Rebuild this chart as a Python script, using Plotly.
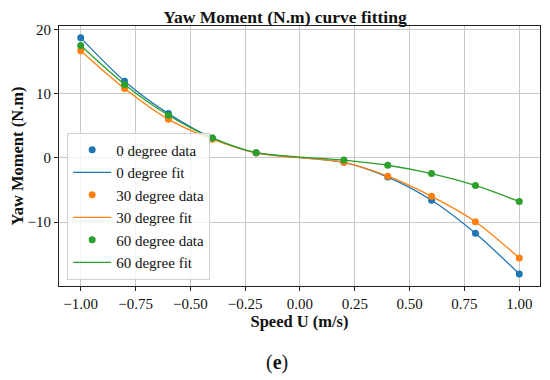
import plotly.graph_objects as go

speed = [-1.0, -0.8, -0.6, -0.4, -0.2, 0.2, 0.4, 0.6, 0.8, 1.0]
moment_0deg = [18.7, 11.95, 6.9, 3.1, 0.8, -0.7, -3.0, -6.6, -11.75, -18.1]
moment_30deg = [16.7, 10.8, 6.0, 2.9, 0.75, -0.7, -2.85, -6.0, -9.95, -15.6]
moment_60deg = [17.5, 11.45, 6.65, 3.1, 0.8, -0.35, -1.15, -2.45, -4.3, -6.8]

x_ticks = [-1.0, -0.75, -0.5, -0.25, 0.0, 0.25, 0.5, 0.75, 1.0]
x_tick_labels = ["\u22121.00", "\u22120.75", "\u22120.50", "\u22120.25", "0.00", "0.25", "0.50", "0.75", "1.00"]
y_ticks = [-10, 0, 10, 20]
y_tick_labels = ["\u221210", "0", "10", "20"]

series = [
    ("0 degree", moment_0deg, "#1f77b4"),
    ("30 degree", moment_30deg, "#ff7f0e"),
    ("60 degree", moment_60deg, "#2ca02c"),
]

FF = "Liberation Serif"

fig = go.Figure()
for name, vals, color in series:
    fig.add_trace(go.Scatter(
        x=speed, y=vals, mode="markers", name=f"{name} data",
        marker=dict(color=color, size=7),
    ))
    fig.add_trace(go.Scatter(
        x=speed, y=vals, mode="lines", name=f"{name} fit",
        line=dict(color=color, width=1.3, shape="spline", smoothing=0.8),
    ))

axis_common = dict(
    showgrid=True, gridcolor="#c8c8c8", gridwidth=1,
    showline=True, linecolor="#222222", linewidth=1, mirror=True,
    ticks="outside", ticklen=4, tickcolor="#222222",
    tickfont=dict(family=FF, size=15, color="#111111"),
    zeroline=False, automargin=False,
)

# page body has an 8px margin, so the figure is sized to fit the 550x380 window
fig.update_layout(
    width=542, height=372,
    margin=dict(l=51, r=10, t=18, b=94),
    paper_bgcolor="white", plot_bgcolor="white",
    font=dict(family=FF, color="#111111"),
    title=dict(text="<b>Yaw Moment (N.m) curve fitting</b>",
               font=dict(family=FF, size=17.5, color="#111111"),
               x=0.511, xanchor="center", y=0.977, yanchor="middle", automargin=False),
    xaxis=dict(range=[-1.099, 1.0945], tickvals=x_ticks, ticktext=x_tick_labels,
               title=dict(text="<b>Speed U (m/s)</b>", font=dict(family=FF, size=16.5), standoff=1),
               **axis_common),
    yaxis=dict(range=[-19.97, 20.55], tickvals=y_ticks, ticktext=y_tick_labels,
               title=dict(text="<b>Yaw Moment (N.m)</b>", font=dict(family=FF, size=16.5), standoff=15),
               **axis_common),
    legend=dict(
        x=0.017, y=0.59, xanchor="left", yanchor="top",
        bgcolor="rgba(255,255,255,0.8)", bordercolor="#d0d0d0", borderwidth=1,
        font=dict(family=FF, size=15, color="#111111"),
        itemwidth=38, tracegroupgap=0,
    ),
    showlegend=True,
)

fig.add_annotation(
    text="(<b>e</b>)", xref="paper", yref="paper", x=0.453, y=-0.295,
    xanchor="center", yanchor="middle", showarrow=False,
    font=dict(family=FF, size=20, color="#111111"),
)

fig.write_html("out.html")
